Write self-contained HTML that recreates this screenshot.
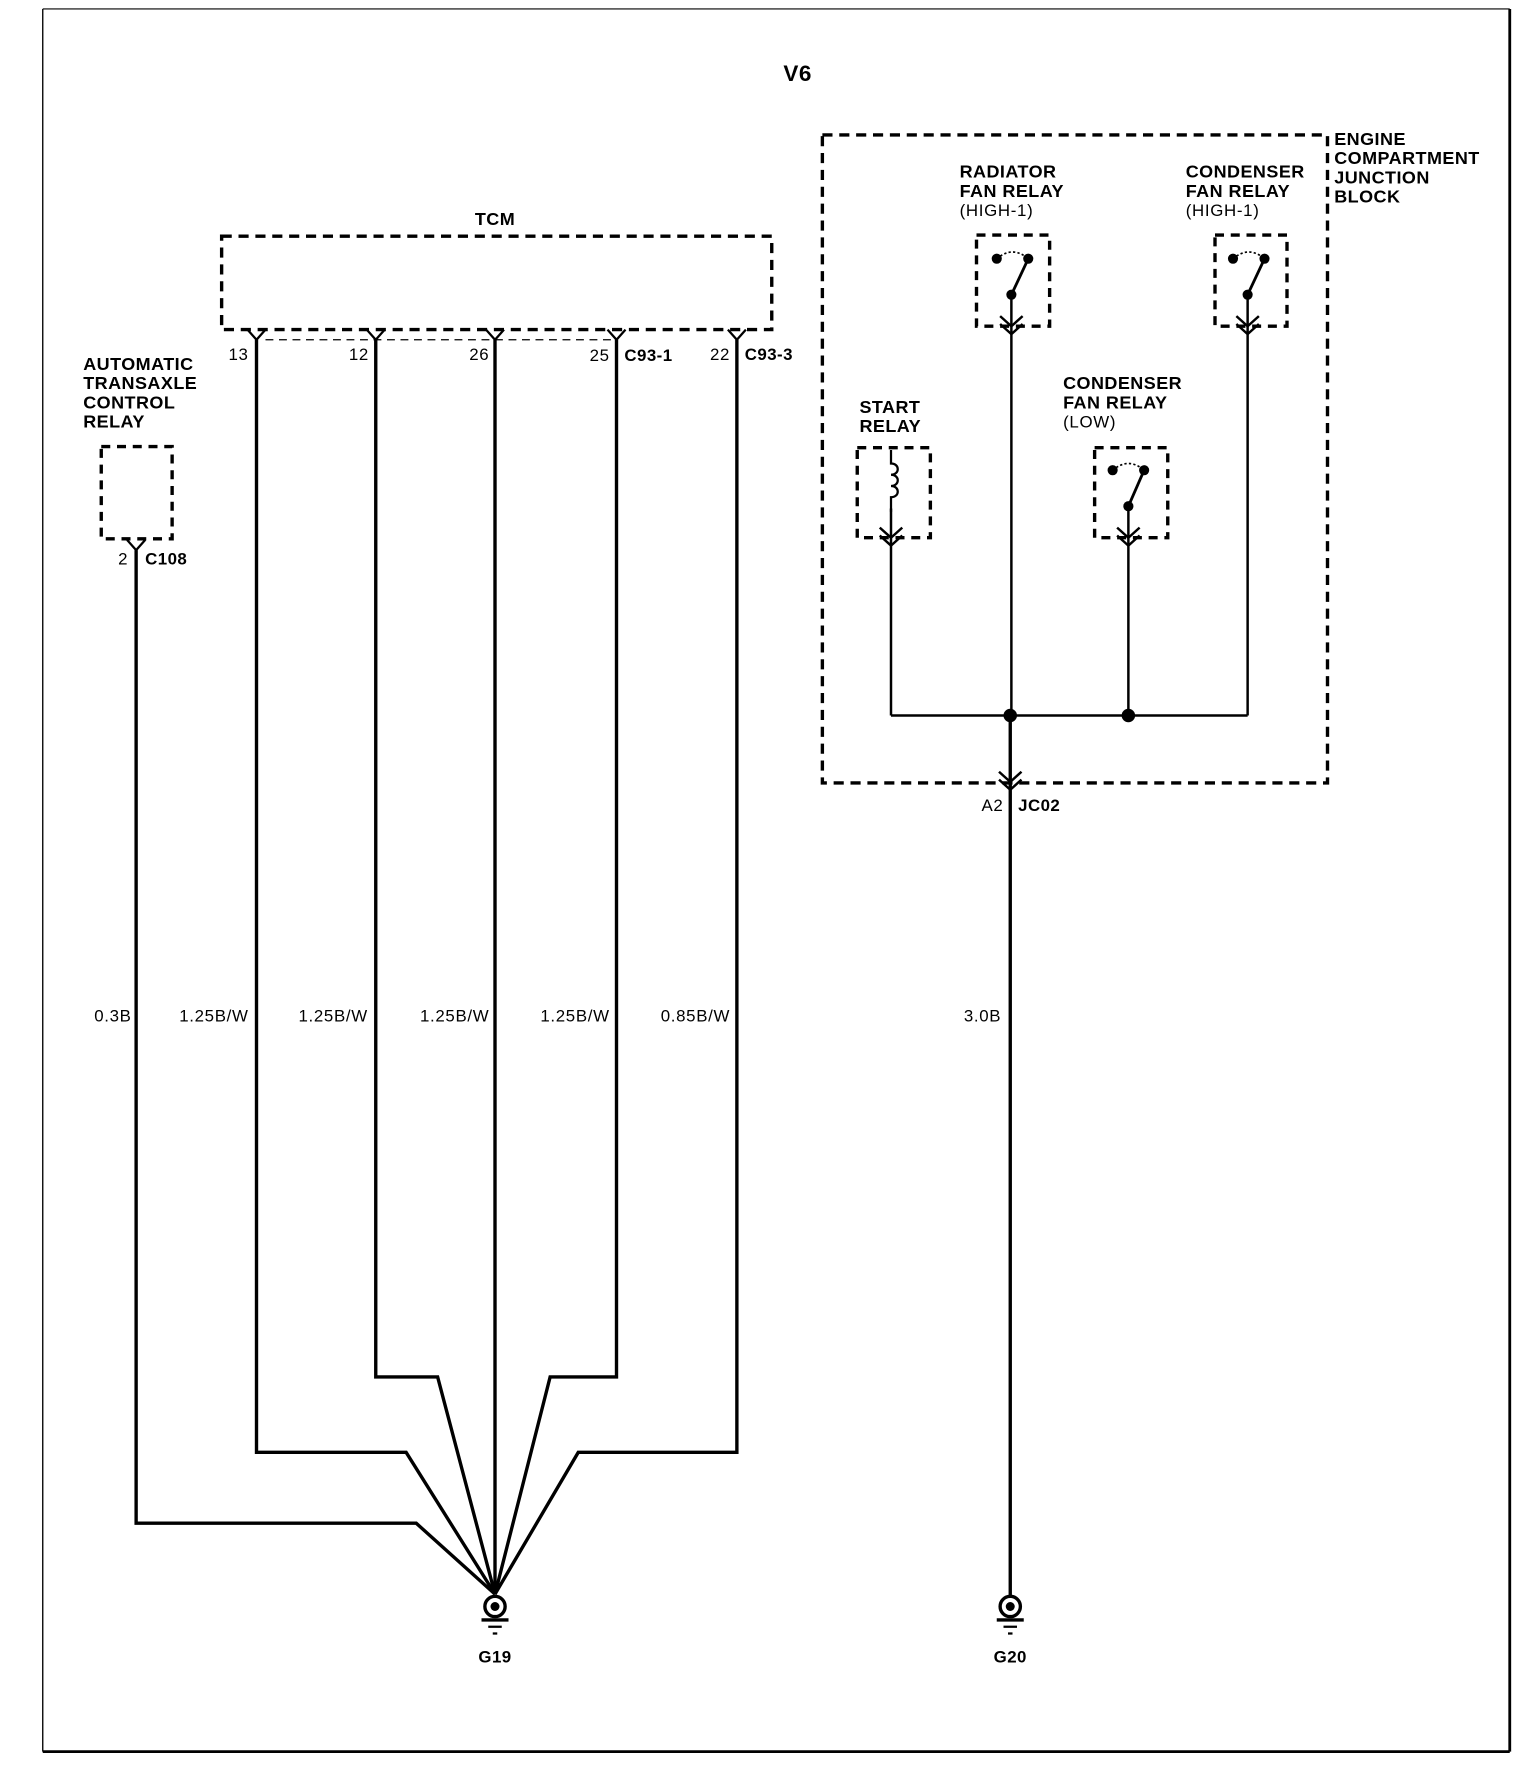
<!DOCTYPE html>
<html><head><meta charset="utf-8"><style>
html,body{margin:0;padding:0;background:#fff;}
svg{display:block;}
text{font-family:"Liberation Sans",Arial,sans-serif;fill:#000;}
.b{font-weight:bold;font-size:16px;letter-spacing:0.4px;}
.w{font-size:15px;letter-spacing:0.6px;}
</style></head><body>
<svg width="1536" height="1766" viewBox="0 0 1365.33 1569.78" xmlns="http://www.w3.org/2000/svg">
<line x1="38" y1="8" x2="1342" y2="8" stroke="#000" stroke-width="1"/>
<line x1="38" y1="8" x2="38" y2="1557" stroke="#000" stroke-width="1.2"/>
<line x1="1342" y1="8" x2="1342" y2="1557" stroke="#000" stroke-width="2.5"/>
<line x1="38" y1="1557" x2="1342" y2="1557" stroke="#000" stroke-width="2.5"/>

<text x="709" y="72" class="b" text-anchor="middle" style="font-size:20px">V6</text>

<text x="440" y="200" class="b" text-anchor="middle">TCM</text>
<rect x="197" y="210" width="489" height="83" fill="none" stroke="#000" stroke-width="3" stroke-dasharray="9,6"/>
<line x1="236" y1="302" x2="544" y2="302" stroke="#000" stroke-width="1.2" stroke-dasharray="7,5"/>
<g stroke="#000" stroke-width="2" fill="none">
<path d="M220 293 L228 302 L236 293"/>
<path d="M326 293 L334 302 L342 293"/>
<path d="M432 293 L440 302 L448 293"/>
<path d="M540 293 L548 302 L556 293"/>
<path d="M647 293 L655 302 L663 293"/>
</g>
<g class="w">
<text x="221" y="320" text-anchor="end">13</text>
<text x="328" y="320" text-anchor="end">12</text>
<text x="435" y="320" text-anchor="end">26</text>
<text x="542" y="321" text-anchor="end">25</text>
<text x="649" y="320" text-anchor="end">22</text>
</g>
<text x="555" y="321" class="b" style="font-size:15px">C93-1</text>
<text x="662" y="320" class="b" style="font-size:15px">C93-3</text>

<g class="b">
<text x="74" y="329">AUTOMATIC</text>
<text x="74" y="346">TRANSAXLE</text>
<text x="74" y="363">CONTROL</text>
<text x="74" y="380">RELAY</text>
</g>
<rect x="90" y="397" width="63" height="82" fill="none" stroke="#000" stroke-width="3" stroke-dasharray="8,6"/>
<path d="M113 480 L121 489 L129 480" stroke="#000" stroke-width="2" fill="none"/>
<text x="114" y="502" class="w" text-anchor="end">2</text>
<text x="129" y="502" class="b" style="font-size:15px">C108</text>

<g stroke="#000" stroke-width="3" fill="none" stroke-linejoin="miter">
<path d="M121 489 L121 1354 L370 1354 L440 1417"/>
<path d="M228 302 L228 1291 L361 1291 L440 1417"/>
<path d="M334 302 L334 1224 L389 1224 L440 1417"/>
<path d="M440 302 L440 1417"/>
<path d="M548 302 L548 1224 L489 1224 L440 1417"/>
<path d="M655 302 L655 1291 L514 1291 L440 1417"/>
</g>
<g class="w">
<text x="117" y="908" text-anchor="end">0.3B</text>
<text x="221" y="908" text-anchor="end">1.25B/W</text>
<text x="327" y="908" text-anchor="end">1.25B/W</text>
<text x="435" y="908" text-anchor="end">1.25B/W</text>
<text x="542" y="908" text-anchor="end">1.25B/W</text>
<text x="649" y="908" text-anchor="end">0.85B/W</text>
<text x="890" y="908" text-anchor="end">3.0B</text>
</g>

<g stroke="#000" fill="none">
<circle cx="440" cy="1428" r="9" stroke-width="3"/>
<circle cx="440" cy="1428" r="4" fill="#000" stroke="none"/>
<line x1="428" y1="1440" x2="452" y2="1440" stroke-width="3"/>
<line x1="434" y1="1446" x2="446" y2="1446" stroke-width="2"/>
<line x1="438" y1="1452" x2="442" y2="1452" stroke-width="2"/>
<circle cx="898" cy="1428" r="9" stroke-width="3"/>
<circle cx="898" cy="1428" r="4" fill="#000" stroke="none"/>
<line x1="886" y1="1440" x2="910" y2="1440" stroke-width="3"/>
<line x1="892" y1="1446" x2="904" y2="1446" stroke-width="2"/>
<line x1="896" y1="1452" x2="900" y2="1452" stroke-width="2"/>
</g>
<text x="440" y="1478" class="b" text-anchor="middle" style="font-size:15px">G19</text>
<text x="898" y="1478" class="b" text-anchor="middle" style="font-size:15px">G20</text>

<rect x="731" y="120" width="449" height="576" fill="none" stroke="#000" stroke-width="3" stroke-dasharray="9,6"/>
<g class="b">
<text x="1186" y="129">ENGINE</text>
<text x="1186" y="146">COMPARTMENT</text>
<text x="1186" y="163">JUNCTION</text>
<text x="1186" y="180">BLOCK</text>
<text x="853" y="158">RADIATOR</text>
<text x="853" y="175">FAN RELAY</text>
<text x="1054" y="158">CONDENSER</text>
<text x="1054" y="175">FAN RELAY</text>
<text x="764" y="367">START</text>
<text x="764" y="384">RELAY</text>
<text x="945" y="346">CONDENSER</text>
<text x="945" y="363">FAN RELAY</text>
</g>
<g class="w">
<text x="853" y="192">(HIGH-1)</text>
<text x="1054" y="192">(HIGH-1)</text>
<text x="945" y="380">(LOW)</text>
<text x="892" y="721" text-anchor="end">A2</text>
</g>
<text x="905" y="721" class="b" style="font-size:15px">JC02</text>

<g stroke="#000" stroke-width="3" fill="none" stroke-dasharray="8,6">
<rect x="868" y="209" width="65" height="81"/>
<rect x="1080" y="209" width="64" height="81"/>
<rect x="762" y="398" width="65" height="80"/>
<rect x="973" y="398" width="65" height="80"/>
</g>

<g stroke="#000" fill="none">
<path d="M886 230 Q900 218 914 230" stroke-width="1.5" stroke-dasharray="2,2"/>
<line x1="914" y1="230" x2="899" y2="262" stroke-width="2.5"/>
<path d="M1096 230 Q1110 218 1124 230" stroke-width="1.5" stroke-dasharray="2,2"/>
<line x1="1124" y1="230" x2="1109" y2="262" stroke-width="2.5"/>
<path d="M989 418 Q1003 406 1017 418" stroke-width="1.5" stroke-dasharray="2,2"/>
<line x1="1017" y1="418" x2="1003" y2="450" stroke-width="2.5"/>
<path d="M792 400 L792 412 C800 412 800 422 792 422 C800 422 800 432 792 432 C800 432 800 442 792 442 L792 455" stroke-width="2"/>
</g>
<g fill="#000">
<circle cx="886" cy="230" r="4.5"/><circle cx="914" cy="230" r="4.5"/><circle cx="899" cy="262" r="4.5"/>
<circle cx="1096" cy="230" r="4.5"/><circle cx="1124" cy="230" r="4.5"/><circle cx="1109" cy="262" r="4.5"/>
<circle cx="989" cy="418" r="4.5"/><circle cx="1017" cy="418" r="4.5"/><circle cx="1003" cy="450" r="4.5"/>
<circle cx="898" cy="636" r="6"/><circle cx="1003" cy="636" r="6"/>
</g>

<g stroke="#000" stroke-width="2.2" fill="none">
<path d="M899 262 L899 636"/>
<path d="M1109 262 L1109 636"/>
<path d="M1003 450 L1003 636"/>
<path d="M792 452 L792 636"/>
<path d="M792 636 L1109 636"/>
</g>
<line x1="898" y1="636" x2="898" y2="1418" stroke="#000" stroke-width="3"/>
<g stroke="#000" stroke-width="2.2" fill="none">
<path d="M889 281 L899 290 L909 281 M889 288 L899 297 L909 288"/>
<path d="M1099 281 L1109 290 L1119 281 M1099 288 L1109 297 L1119 288"/>
<path d="M782 469 L792 478 L802 469 M782 476 L792 485 L802 476"/>
<path d="M993 469 L1003 478 L1013 469 M993 476 L1003 485 L1013 476"/>
<path d="M888 686 L898 695 L908 686 M888 693 L898 702 L908 693"/>
</g>
</svg>
</body></html>
